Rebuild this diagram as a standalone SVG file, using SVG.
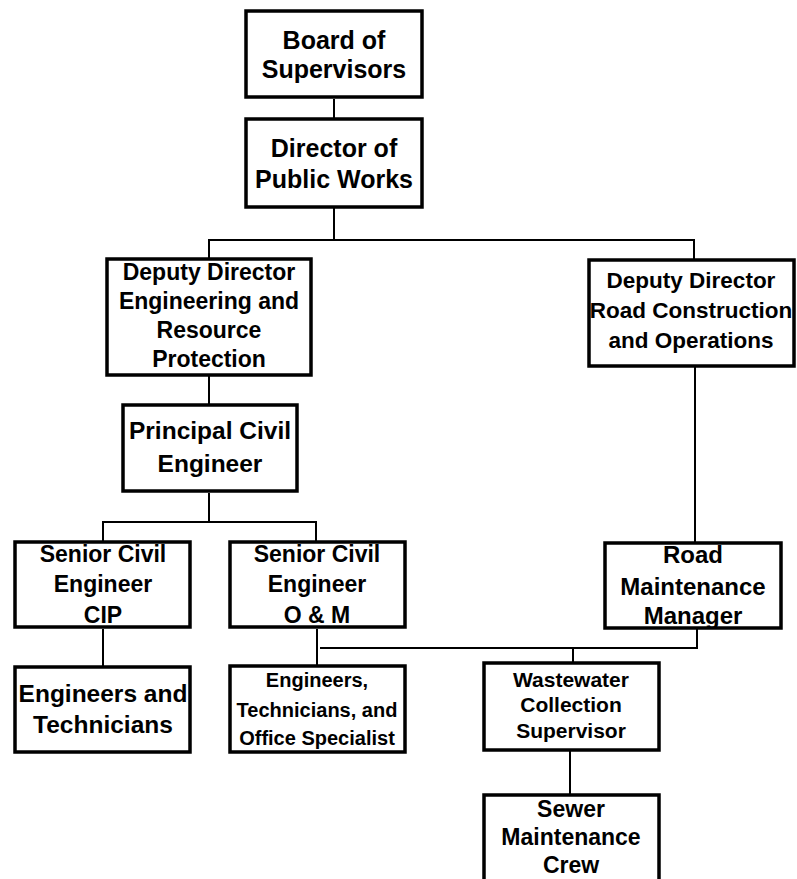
<svg xmlns="http://www.w3.org/2000/svg" width="797" height="879" viewBox="0 0 797 879">
<style>
.box{fill:#fff;stroke:#000;stroke-width:3.5}
.t{font-family:"Liberation Sans",Arial,sans-serif;font-weight:bold;fill:#000;text-anchor:middle}
.c{fill:none;stroke:#000;stroke-width:2}
</style>
<rect width="797" height="879" fill="#fff"/>
<g id="connectors">
<path class="c" d="M334,99V118"/>
<path class="c" d="M334,208V240M209,258V240H694V259"/>
<path class="c" d="M209,376V404"/>
<path class="c" d="M209,493V522M103,541V522H316V541"/>
<path class="c" d="M103,629V666"/>
<path class="c" d="M317,629V665"/>
<path class="c" d="M320,648H697V629"/>
<path class="c" d="M573,648V662"/>
<path class="c" d="M695,367V542"/>
<path class="c" d="M570,751V794"/>
</g>
<g id="board">
<rect class="box" x="246" y="11" width="176" height="86"/>
<text class="t" font-size="25" x="334" y="49">Board of</text>
<text class="t" font-size="25" x="334" y="78">Supervisors</text>
</g>
<g id="director">
<rect class="box" x="246" y="119" width="176" height="88"/>
<text class="t" font-size="25" x="334" y="157">Director of</text>
<text class="t" font-size="25" x="334" y="188">Public Works</text>
</g>
<g id="deputy-eng">
<rect class="box" x="107" y="259" width="204" height="116"/>
<text class="t" font-size="23" x="209" y="280">Deputy Director</text>
<text class="t" font-size="23" x="209" y="309">Engineering and</text>
<text class="t" font-size="23" x="209" y="338">Resource</text>
<text class="t" font-size="23" x="209" y="367">Protection</text>
</g>
<g id="deputy-road">
<rect class="box" x="589" y="260" width="205" height="106"/>
<text class="t" font-size="22.5" x="691" y="288">Deputy Director</text>
<text class="t" font-size="22.5" x="691" y="318">Road Construction</text>
<text class="t" font-size="22.5" x="691" y="348">and Operations</text>
</g>
<g id="principal">
<rect class="box" x="123" y="405" width="174" height="86"/>
<text class="t" font-size="24.5" x="210" y="439">Principal Civil</text>
<text class="t" font-size="24.5" x="210" y="472">Engineer</text>
</g>
<g id="senior-cip">
<rect class="box" x="15" y="542" width="175" height="85"/>
<text class="t" font-size="23" x="103" y="562">Senior Civil</text>
<text class="t" font-size="23" x="103" y="592">Engineer</text>
<text class="t" font-size="23" x="103" y="623">CIP</text>
</g>
<g id="senior-om">
<rect class="box" x="230" y="542" width="175" height="85"/>
<text class="t" font-size="23" x="317" y="562">Senior Civil</text>
<text class="t" font-size="23" x="317" y="592">Engineer</text>
<text class="t" font-size="23" x="317" y="623">O &amp; M</text>
</g>
<g id="road-maint">
<rect class="box" x="605" y="543" width="176" height="85"/>
<text class="t" font-size="24" x="693" y="563">Road</text>
<text class="t" font-size="24" x="693" y="595">Maintenance</text>
<text class="t" font-size="24" x="693" y="624">Manager</text>
</g>
<g id="eng-tech">
<rect class="box" x="15" y="667" width="175" height="85"/>
<text class="t" font-size="24.5" x="103" y="702">Engineers and</text>
<text class="t" font-size="24.5" x="103" y="733">Technicians</text>
</g>
<g id="eng-tech-office">
<rect class="box" x="230" y="666" width="175" height="86"/>
<text class="t" font-size="20" x="317" y="687">Engineers,</text>
<text class="t" font-size="20" x="317" y="717">Technicians, and</text>
<text class="t" font-size="20" x="317" y="745">Office Specialist</text>
</g>
<g id="wastewater">
<rect class="box" x="484" y="663" width="175" height="87"/>
<text class="t" font-size="21" x="571" y="687">Wastewater</text>
<text class="t" font-size="21" x="571" y="712">Collection</text>
<text class="t" font-size="21" x="571" y="738">Supervisor</text>
</g>
<g id="sewer">
<rect class="box" x="484" y="795" width="175" height="100"/>
<text class="t" font-size="23" x="571" y="817">Sewer</text>
<text class="t" font-size="23" x="571" y="845">Maintenance</text>
<text class="t" font-size="23" x="571" y="873">Crew</text>
</g>
</svg>
